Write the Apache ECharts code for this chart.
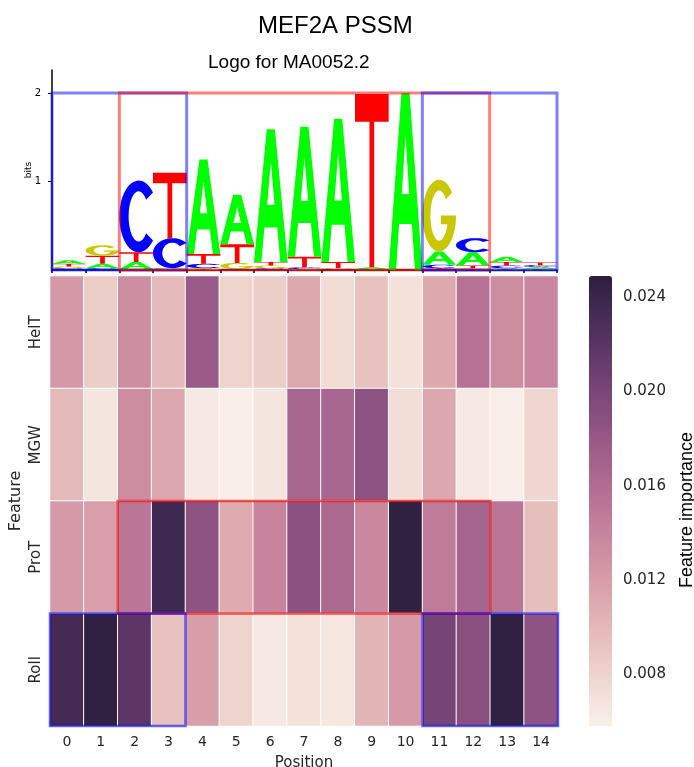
<!DOCTYPE html>
<html>
<head>
<meta charset="utf-8">
<script src="https://cdn.jsdelivr.net/npm/echarts@6/dist/echarts.min.js"></script>
<style>
html, body { margin: 0; padding: 0; background: #fff; }
#main { width: 694px; height: 767px; }
</style>
</head>
<body>
<div id="main"></div>
<script>
// ---- data ----
var positions = ['0', '1', '2', '3', '4', '5', '6', '7', '8', '9', '10', '11', '12', '13', '14'];
var features = ['HelT', 'MGW', 'ProT', 'Roll'];

// feature importance per position
var helT = [0.0124, 0.0085, 0.0133, 0.0099, 0.0178, 0.0080, 0.0084, 0.0111, 0.0074, 0.0093, 0.0070, 0.0111, 0.0155, 0.0133, 0.0138];
var mgw  = [0.0099, 0.0067, 0.0133, 0.0114, 0.0064, 0.0060, 0.0067, 0.0167, 0.0166, 0.0187, 0.0072, 0.0112, 0.0064, 0.0060, 0.0078];
var proT = [0.0123, 0.0119, 0.0152, 0.0237, 0.0185, 0.0110, 0.0140, 0.0188, 0.0164, 0.0137, 0.0247, 0.0147, 0.0168, 0.0152, 0.0095];
var roll = [0.0233, 0.0247, 0.0218, 0.0093, 0.0120, 0.0080, 0.0064, 0.0070, 0.0065, 0.0103, 0.0123, 0.0202, 0.0190, 0.0247, 0.0185];
var colorTicks = [0.008, 0.012, 0.016, 0.020, 0.024];

// logo letter heights (bits) per position
var logoA = [0.04, 0.05, 0.08, 0.01, 1.07, 0.56, 1.50, 1.47, 1.62, 0.02, 2.00, 0.15, 0.15, 0.06, 0.02];
var logoC = [0.02, 0.02, 0.81, 0.34, 0.05, 0.01, 0.02, 0.02, 0.01, 0.005, 0.00, 0.04, 0.16, 0.03, 0.02];
var logoG = [0.02, 0.12, 0.01, 0.01, 0.02, 0.07, 0.03, 0.01, 0.01, 0.005, 0.00, 0.81, 0.02, 0.02, 0.015];
var logoT = [0.03, 0.09, 0.11, 0.74, 0.11, 0.21, 0.04, 0.12, 0.07, 1.96, 0.00, 0.02, 0.03, 0.04, 0.03];

// highlighted regions: [first position, last position, colour]
var logoBoxes = [[0, 3, 'blue'], [2, 12, 'red'], [11, 14, 'blue']];
// [first position, last position, feature row, colour]
var heatBoxes = [[2, 12, 2, 'red'], [0, 3, 3, 'blue'], [11, 14, 3, 'blue']];

// ---- colormap (cubehelix, light -> dark) ----
function cubehelix(x) {
    var h = 0.8, s = 0, r = 0.4;
    var a = h * x * (1 - x) / 2;
    var phi = 2 * Math.PI * (s / 3 + r * x);
    var c = Math.cos(phi), sn = Math.sin(phi);
    var rgb = [
        x + a * (-0.14861 * c + 1.78277 * sn),
        x + a * (-0.29227 * c - 0.90649 * sn),
        x + a * (1.97294 * c)
    ];
    return 'rgb(' + rgb.map(function (v) { return Math.round(Math.min(1, Math.max(0, v)) * 255); }).join(',') + ')';
}
var cmap = [];
for (var k = 0; k <= 24; k++) {
    cmap.push(cubehelix(0.95 - 0.8 * k / 24));
}

// ---- letter glyphs in a 100x100 box ----
function arc(cx, cy, rx, ry, a0, a1, n) {
    var pts = [];
    for (var i = 0; i <= n; i++) {
        var a = (a0 + (a1 - a0) * i / n) * Math.PI / 180;
        pts.push([cx + rx * Math.cos(a), cy - ry * Math.sin(a)]);
    }
    return pts;
}
function toPath(pts) {
    return 'M' + pts.map(function (p) { return p[0].toFixed(2) + ',' + p[1].toFixed(2); }).join('L') + 'Z';
}
var glyphA = 'M0,100L38,0L62,0L100,100L78,100L69,74L31,74L22,100Z M50,24L39,57L61,57Z';
var glyphT = 'M0,0L100,0L100,16L57,16L57,100L43,100L43,16L0,16Z';
var glyphC = toPath(arc(50, 50, 50, 50, 42, 318, 40).concat(arc(50, 50, 26, 35, 318, 42, 40)));
var glyphG = toPath(arc(50, 50, 50, 50, 40, 360, 44)
    .concat([[55, 50], [55, 62], [74.5, 62]])
    .concat(arc(50, 50, 26, 35, 340.5, 40, 40)));
var glyphs = [glyphA, glyphC, glyphG, glyphT];
var letterColors = ['#00ff00', '#0000ff', '#c8c800', '#ff0000'];

var boxColors = {
    blue: 'rgba(0,0,255,0.5)',
    red: 'rgba(255,0,0,0.5)'
};
var heatBoxColors = {
    blue: 'rgba(0,0,240,0.6)',
    red: 'rgba(235,0,0,0.65)'
};

// stack letters, smallest at bottom
var letterData = [];
positions.forEach(function (p, i) {
    var hs = [logoA[i], logoC[i], logoG[i], logoT[i]];
    var order = [0, 1, 2, 3].sort(function (a, b) { return hs[a] - hs[b]; });
    var y = 0;
    order.forEach(function (li) {
        if (hs[li] > 0) {
            letterData.push([i, y, y + hs[li], li]);
            y += hs[li];
        }
    });
});

var heatData = [];
[helT, mgw, proT, roll].forEach(function (row, r) {
    row.forEach(function (v, c) {
        heatData.push([c, r, v]);
    });
});

var myChart = echarts.init(document.getElementById('main'));

var option = {
    backgroundColor: '#fff',
    animation: false,
    title: [{
        text: 'MEF2A PSSM',
        left: 253,
        top: 9,
        textStyle: { fontFamily: 'Liberation Sans', fontSize: 24, fontWeight: 'normal', color: '#000' }
    }, {
        text: 'Logo for MA0052.2',
        left: 203,
        top: 48,
        textStyle: { fontFamily: 'Liberation Sans', fontSize: 19, fontWeight: 'normal', color: '#000' }
    }],
    grid: [{
        left: 52, top: 70, width: 505, height: 200, outerBoundsMode: 'none'
    }, {
        left: 50, top: 276, width: 508, height: 450, outerBoundsMode: 'none'
    }, {
        left: 589, top: 276, width: 23, height: 450, outerBoundsMode: 'none'
    }],
    xAxis: [{
        gridIndex: 0,
        type: 'category',
        data: positions,
        axisLine: { lineStyle: { color: '#000', width: 1.5 } },
        axisTick: { show: true, length: 3, lineStyle: { color: '#000', width: 1.5 } },
        axisLabel: { show: false },
        splitLine: { show: false }
    }, {
        gridIndex: 1,
        type: 'category',
        data: positions,
        name: 'Position',
        nameLocation: 'middle',
        nameGap: 30,
        nameTextStyle: { fontFamily: 'DejaVu Sans', fontSize: 15, color: '#262626' },
        axisLine: { show: false },
        axisTick: { show: false },
        axisLabel: { fontFamily: 'DejaVu Sans', fontSize: 14, color: '#262626', margin: 9 },
        splitLine: { show: false }
    }, {
        gridIndex: 2,
        type: 'value',
        show: false
    }],
    yAxis: [{
        gridIndex: 0,
        type: 'value',
        min: 0,
        max: 2.26,
        name: 'bits',
        nameLocation: 'middle',
        nameRotate: 90,
        nameGap: 19,
        nameMoveOverlap: false,
        nameTextStyle: { fontFamily: 'DejaVu Sans', fontSize: 9, color: '#000' },
        axisLine: { show: true, lineStyle: { color: '#000', width: 1.5 } },
        axisTick: { show: true, length: 4, customValues: [1, 2], lineStyle: { color: '#000' } },
        axisLabel: { customValues: [1, 2], fontFamily: 'DejaVu Sans', fontSize: 10, color: '#000', margin: 11 },
        splitLine: { show: false }
    }, {
        gridIndex: 1,
        type: 'category',
        data: features,
        inverse: true,
        name: 'Feature',
        nameLocation: 'middle',
        nameRotate: 90,
        nameGap: 26,
        nameMoveOverlap: false,
        nameTextStyle: { fontFamily: 'DejaVu Sans', fontSize: 16, color: '#262626' },
        axisLine: { show: false },
        axisTick: { show: false },
        axisLabel: { rotate: 90, fontFamily: 'DejaVu Sans', fontSize: 15, color: '#262626', margin: 6 },
        splitLine: { show: false }
    }, {
        gridIndex: 2,
        type: 'value',
        position: 'right',
        min: 0.0058,
        max: 0.0249,
        name: 'Feature importance',
        nameLocation: 'middle',
        nameRotate: 90,
        nameGap: 66,
        nameMoveOverlap: false,
        nameTextStyle: { fontFamily: 'Liberation Sans', fontSize: 18, color: '#000', padding: [0, 18, 0, 0] },
        axisLine: { show: false },
        axisTick: { show: false },
        axisLabel: {
            customValues: colorTicks,
            formatter: function (v) { return v.toFixed(3); },
            fontFamily: 'DejaVu Sans', fontSize: 15, color: '#262626', margin: 11
        },
        splitLine: { show: false }
    }],
    visualMap: {
        type: 'continuous',
        seriesIndex: 1,
        min: 0.0058,
        max: 0.0249,
        orient: 'vertical',
        left: 589,
        top: 276,
        itemWidth: 23,
        itemHeight: 450,
        padding: 0,
        calculable: false,
        hoverLink: false,
        text: null,
        inRange: { color: cmap }
    },
    series: [{
        // sequence logo letters
        type: 'custom',
        xAxisIndex: 0,
        yAxisIndex: 0,
        data: letterData,
        renderItem: function (params, api) {
            var x = api.value(0);
            var p0 = api.coord([x, api.value(1)]);
            var p1 = api.coord([x, api.value(2)]);
            var bw = api.size([1, 0])[0];
            var li = api.value(3);
            return {
                type: 'path',
                shape: {
                    pathData: glyphs[li],
                    x: p0[0] - bw / 2,
                    y: p1[1],
                    width: bw,
                    height: Math.max(p0[1] - p1[1], 0.3),
                    layout: 'cover'
                },
                style: { fill: letterColors[li] }
            };
        },
        z: 2
    }, {
        type: 'heatmap',
        xAxisIndex: 1,
        yAxisIndex: 1,
        data: heatData,
        itemStyle: { borderColor: '#fff', borderWidth: 1 },
        emphasis: { disabled: true }
    }, {
        // logo highlight boxes
        type: 'custom',
        xAxisIndex: 0,
        yAxisIndex: 0,
        data: logoBoxes,
        renderItem: function (params, api) {
            var b = logoBoxes[params.dataIndex];
            var bw = api.size([1, 0])[0];
            var a = api.coord([b[0], 2]);
            var c = api.coord([b[1], 0]);
            return {
                type: 'rect',
                shape: { x: a[0] - bw / 2, y: a[1], width: c[0] - a[0] + bw, height: c[1] - a[1] },
                style: { fill: 'none', stroke: boxColors[b[2]], lineWidth: 3 }
            };
        },
        z: 5
    }, {
        // heatmap highlight boxes
        type: 'custom',
        xAxisIndex: 1,
        yAxisIndex: 1,
        data: heatBoxes,
        renderItem: function (params, api) {
            var b = heatBoxes[params.dataIndex];
            var s = api.size([1, 1]);
            var a = api.coord([b[0], b[2]]);
            var c = api.coord([b[1], b[2]]);
            return {
                type: 'rect',
                shape: { x: a[0] - s[0] / 2, y: a[1] - s[1] / 2, width: c[0] - a[0] + s[0], height: s[1] },
                style: { fill: 'none', stroke: heatBoxColors[b[3]], lineWidth: 2.5 }
            };
        },
        z: 5
    }]
};

myChart.setOption(option);
</script>
</body>
</html>
